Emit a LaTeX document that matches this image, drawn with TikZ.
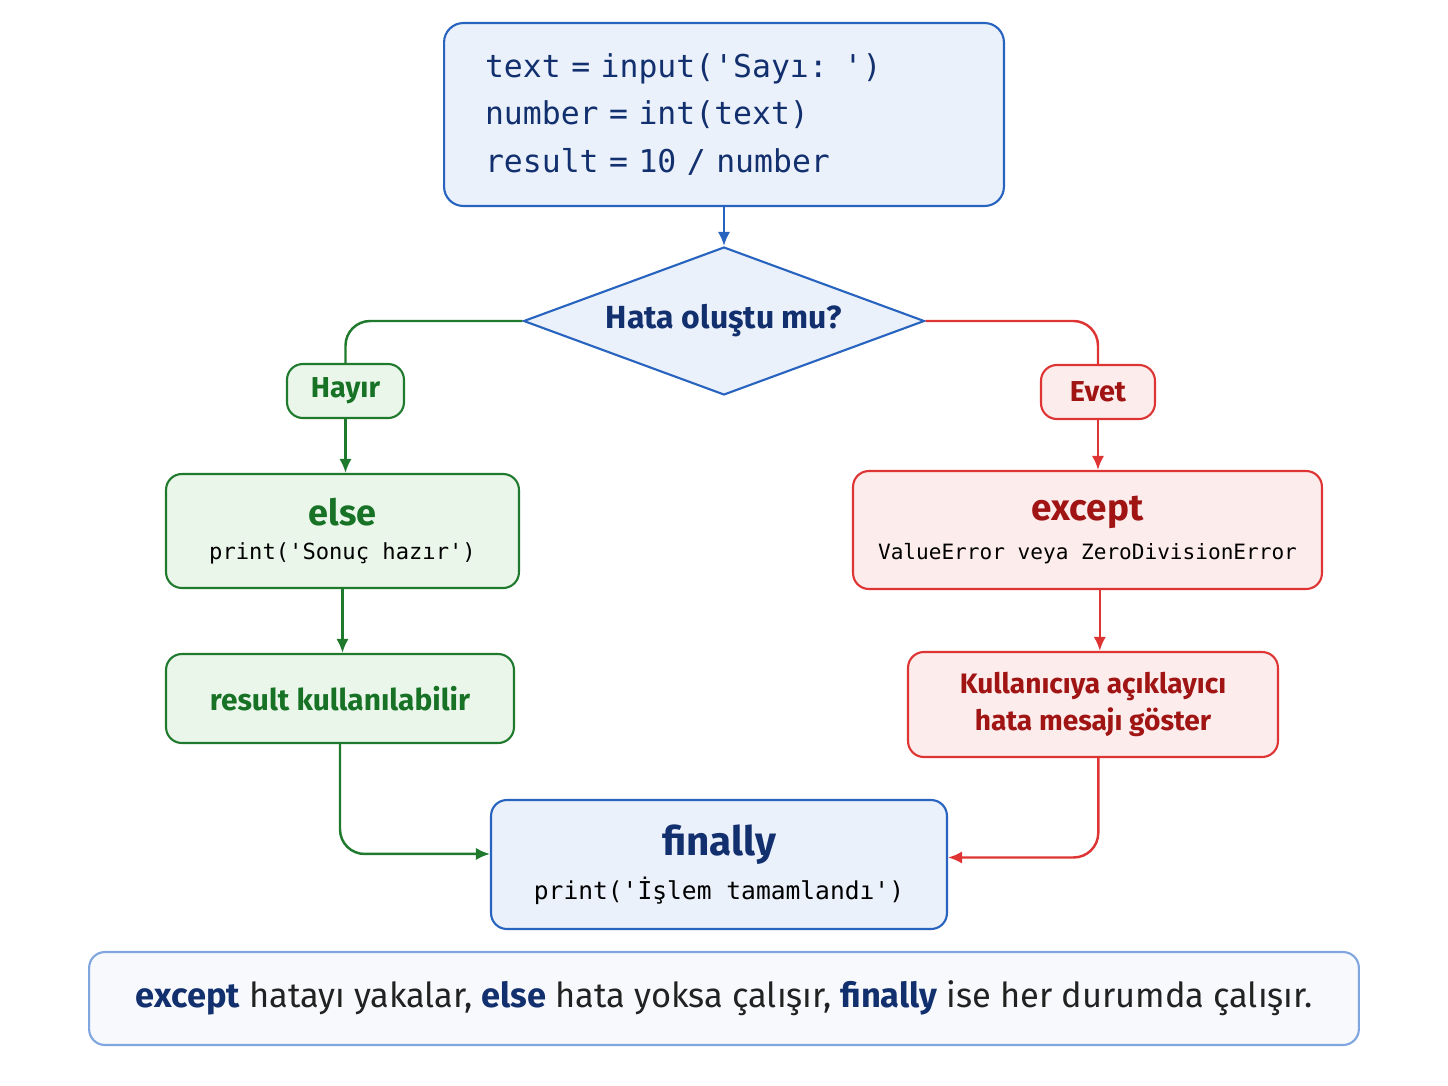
\documentclass[tikz,border=0pt]{standalone}
\usepackage{fontspec}
\setmainfont{Fira Sans}
\setmonofont{DejaVu Sans Mono}
\usetikzlibrary{shapes.geometric,calc,arrows.meta}
\definecolor{bluedraw}{HTML}{2763BF}
\definecolor{bluefill}{HTML}{EAF1FB}
\definecolor{navytext}{HTML}{122F6E}
\definecolor{greendraw}{HTML}{1F7A2E}
\definecolor{greenfill}{HTML}{EAF6EA}
\definecolor{greentext}{HTML}{177226}
\definecolor{reddraw}{HTML}{DE3434}
\definecolor{redfill}{HTML}{FDECEC}
\definecolor{redtext}{HTML}{A01414}
\definecolor{notedraw}{HTML}{7FA6DE}
\definecolor{notefill}{HTML}{F7F9FD}
\definecolor{notetext}{HTML}{222222}
\tikzset{>={Latex[length=8pt,width=7pt]}}
\tikzset{
  box/.style = {draw, line width=1.2pt, rounded corners=9pt, align=center, inner sep=0pt},
  bluebox/.style = {box, draw=bluedraw, fill=bluefill, text=navytext},
  greenbox/.style = {box, draw=greendraw, fill=greenfill, text=greentext},
  redbox/.style = {box, draw=reddraw, fill=redfill, text=redtext},
  blueline/.style = {draw=bluedraw, line width=1.4pt},
  greenline/.style = {draw=greendraw, line width=1.4pt, rounded corners=14pt},
  redline/.style = {draw=reddraw, line width=1.4pt, rounded corners=14pt}
}

\begin{document}
\begin{tikzpicture}[x=0.02cm,y=-0.02cm]
  \useasboundingbox (0,0) rectangle (1448,1086);
  % code at the top
  \node (code) at (724,114.5) [bluebox, rounded corners=11pt, align=left, text width=9.56cm, inner xsep=0.82cm, minimum height=3.66cm,
        font=\ttfamily\fontsize{17.9}{27.2}\selectfont]
        {text = input('Sayı: ')\\number = int(text)\\result = 10 / number};
  % question
  \node (dec) at (724,321) [diamond, aspect=2.7, draw=bluedraw, fill=bluefill, line width=1.2pt, inner sep=0pt,
        minimum width=8.02cm, minimum height=2.96cm, text=navytext, font=\bfseries\fontsize{18.2}{21}\selectfont] {Hata oluştu mu?};
  \draw[->,blueline] (code.south) -- (dec.north);
  % no branch
  \node (hayir) at (345.5,391) [greenbox, minimum width=2.34cm, minimum height=1.08cm, font=\bfseries\fontsize{16.4}{19}\selectfont] {Hayır};
  \node (else) at (342.5,531) [greenbox, minimum width=7.06cm, minimum height=2.28cm]
        {{\bfseries\fontsize{20.5}{24}\selectfont else}\\[7pt]{\ttfamily\fontsize{12.6}{15}\selectfont\color{black}print('Sonuç hazır')}};
  \node (res) at (340,698.5) [greenbox, minimum width=6.96cm, minimum height=1.78cm, font=\bfseries\fontsize{17}{21}\selectfont] {result kullanılabilir};
  \draw[greenline] (dec.west) -| (hayir.north);
  \draw[->,greenline] (hayir.south) -- (hayir.south |- else.north);
  \draw[->,greenline] (else.south) -- (else.south |- res.north);
  % yes branch
  \node (evet) at (1098,392) [redbox, minimum width=2.28cm, minimum height=1.08cm, font=\bfseries\fontsize{16.4}{19}\selectfont] {Evet};
  \node (exc) at (1087.5,530) [redbox, minimum width=9.38cm, minimum height=2.36cm]
        {{\bfseries\fontsize{21}{24}\selectfont except}\\[7pt]{\ttfamily\fontsize{12}{15}\selectfont\color{black}ValueError veya ZeroDivisionError}};
  \node (msg) at (1093,704.5) [redbox, minimum width=7.4cm, minimum height=2.1cm, font=\bfseries\fontsize{16}{21}\selectfont]
        {Kullanıcıya açıklayıcı\\hata mesajı göster};
  \draw[redline] (dec.east) -| (evet.north);
  \draw[->,redline] (evet.south) -- (evet.south |- exc.north);
  \draw[->,redline] ([xshift=7pt]exc.south) -- ([xshift=7pt]exc.south |- msg.north);
  % finally
  \node (fin) at (719,864.5) [bluebox, minimum width=9.12cm, minimum height=2.58cm]
        {{\bfseries\fontsize{23}{27}\selectfont finally}\\[6pt]{\ttfamily\fontsize{14}{16}\selectfont\color{black}print('İşlem tamamlandı')}};
  \draw[->,greenline] (res.south) |- ([yshift=6pt]fin.west);
  \draw[->,redline] ([xshift=3pt]msg.south) |- ([yshift=4pt]fin.east);
  % note at the bottom
  \node (note) at (724,998.5) [box, draw=notedraw, fill=notefill, minimum width=25.4cm, minimum height=1.86cm, text=notetext,
        font=\fontsize{19.6}{23}\selectfont]
        {{\bfseries\color{navytext}except}\ hatayı yakalar, {\bfseries\color{navytext}else}\ hata yoksa çalışır, {\bfseries\color{navytext}finally} ise her durumda çalışır.};
\end{tikzpicture}
\end{document}
